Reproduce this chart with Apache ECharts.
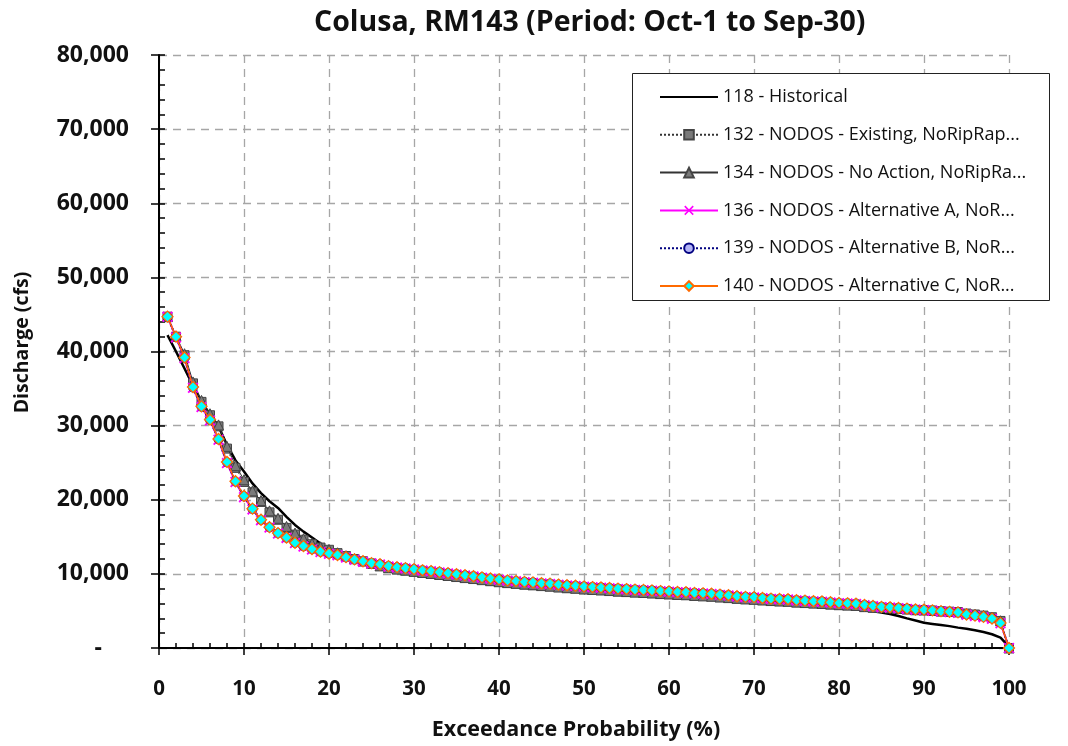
<!DOCTYPE html>
<html>
<head>
<meta charset="utf-8">
<script src="https://cdn.jsdelivr.net/npm/echarts@6/dist/echarts.min.js"></script>
<style>
html,body{margin:0;padding:0;background:#fff;}
#chart{width:1068px;height:746px;}
</style>
</head>
<body>
<div id="chart"></div>
<script>
var titleText = 'Colusa, RM143 (Period: Oct-1 to Sep-30)';
var xAxisTitle = 'Exceedance Probability (%)';
var yAxisTitle = 'Discharge (cfs)';
var seriesNames = [
  '118 - Historical',
  '132 - NODOS - Existing, NoRipRap...',
  '134 - NODOS - No Action, NoRipRa...',
  '136 - NODOS - Alternative A, NoR...',
  '139 - NODOS - Alternative B, NoR...',
  '140 - NODOS - Alternative C, NoR...'
];
var xTicks = [0,10,20,30,40,50,60,70,80,90,100];
var yTicks = [0,10000,20000,30000,40000,50000,60000,70000,80000];

var probs = [1,2,3,4,5,6,7,8,9,10,11,12,13,14,15,16,17,18,19,20,
  21,22,23,24,25,26,27,28,29,30,31,32,33,34,35,36,37,38,39,40,
  41,42,43,44,45,46,47,48,49,50,51,52,53,54,55,56,57,58,59,60,
  61,62,63,64,65,66,67,68,69,70,71,72,73,74,75,76,77,78,79,80,
  81,82,83,84,85,86,87,88,89,90,91,92,93,94,95,96,97,98,99,100];

var hist118 = [42200,40000,37700,35400,33200,31500,29900,27400,25300,23800,
  22200,20900,19800,18900,17700,16600,15700,14900,14100,13400,
  13000,12600,12200,11800,11500,11000,10750,10570,10430,10270,
  10120,9990,9850,9710,9570,9430,9300,9150,9010,8870,
  8750,8650,8540,8450,8350,8270,8160,8060,7990,7890,
  7820,7760,7680,7600,7540,7470,7420,7350,7270,7220,
  7150,7110,7020,6960,6910,6810,6730,6630,6550,6500,
  6410,6330,6270,6230,6120,6060,5990,5940,5850,5700,
  5550,5300,5050,4950,4800,4580,4320,4000,3700,3400,
  3250,3100,2950,2750,2600,2400,2150,1850,1400,200];

var s132 = [44700,42000,39500,35700,33200,31400,29900,26900,24300,22400,
  21000,19700,18300,17300,16200,15300,14600,14000,13550,13250,
  12800,12400,12000,11700,11400,11050,10800,10620,10480,10320,
  10170,10040,9900,9760,9620,9480,9350,9200,9060,8920,
  8800,8700,8590,8500,8400,8320,8210,8110,8040,7940,
  7870,7810,7730,7650,7590,7520,7470,7400,7320,7270,
  7200,7160,7070,7010,6960,6860,6780,6680,6600,6550,
  6460,6380,6320,6280,6170,6110,6040,5990,5900,5820,
  5770,5720,5560,5480,5440,5390,5310,5240,5140,5110,
  5050,4960,4900,4850,4650,4520,4370,4150,3650,0];

var s134 = [44700,42100,39700,35900,33400,31600,30100,27200,24600,22700,
  21200,19900,18500,17500,16400,15500,14750,14100,13650,13300,
  12850,12450,12050,11750,11420,11080,10830,10650,10500,10340,
  10190,10060,9920,9780,9640,9500,9370,9220,9080,8940,
  8820,8720,8610,8520,8420,8340,8230,8130,8060,7960,
  7890,7830,7750,7670,7610,7540,7490,7420,7340,7290,
  7220,7180,7090,7030,6980,6880,6800,6700,6620,6570,
  6480,6400,6340,6300,6190,6130,6060,6010,5920,5840,
  5790,5740,5580,5500,5460,5410,5330,5260,5160,5130,
  5070,4980,4920,4870,4670,4540,4390,4170,3680,0];

var s136 = [44700,41900,39100,35100,32500,30700,28100,24950,22400,20350,
  18700,17250,16250,15450,14850,14150,13700,13300,12950,12700,
  12500,12200,11900,11650,11400,11250,11000,10850,10730,10600,
  10440,10340,10200,10060,9910,9780,9640,9490,9340,9210,
  9080,8990,8880,8810,8700,8640,8520,8420,8360,8250,
  8180,8130,8050,7970,7910,7840,7800,7730,7640,7600,
  7520,7490,7390,7340,7280,7160,7080,6940,6860,6820,
  6710,6620,6570,6540,6410,6350,6270,6240,6130,6040,
  5990,5940,5760,5640,5510,5450,5360,5270,5150,5130,
  5040,4930,4840,4770,4480,4330,4160,3930,3340,0];

var s139 = [44650,41950,39150,35150,32550,30750,28150,25050,22450,20450,
  18750,17280,16280,15480,14880,14180,13730,13330,12990,12740,
  12540,12240,11940,11690,11450,11300,11050,10900,10790,10650,
  10490,10390,10250,10110,9960,9830,9690,9540,9390,9260,
  9130,9040,8930,8860,8750,8690,8570,8470,8410,8300,
  8230,8180,8100,8020,7960,7890,7850,7780,7690,7650,
  7570,7540,7440,7390,7330,7210,7130,6990,6910,6870,
  6760,6670,6620,6590,6460,6400,6320,6290,6180,6090,
  6040,5990,5810,5690,5560,5500,5410,5320,5200,5180,
  5090,4980,4890,4820,4540,4390,4220,4000,3420,0];

var s140 = [44700,42000,39200,35200,32600,30800,28200,25100,22500,20500,
  18800,17300,16300,15500,14900,14200,13750,13350,13000,12750,
  12550,12250,11950,11700,11450,11300,11050,10900,10780,10640,
  10480,10380,10240,10100,9950,9820,9680,9530,9380,9250,
  9120,9030,8920,8850,8740,8680,8560,8460,8400,8290,
  8220,8170,8090,8010,7950,7880,7840,7770,7680,7640,
  7560,7530,7430,7380,7320,7200,7120,6980,6900,6860,
  6750,6660,6610,6580,6450,6390,6310,6280,6170,6080,
  6030,5980,5800,5680,5550,5490,5400,5310,5190,5170,
  5080,4970,4880,4810,4520,4370,4200,3970,3380,0];

function pairs(vals){ return probs.map(function(p,i){ return [p, vals[i]]; }); }

var FONT = '"Open Sans", sans-serif';
var xMin = xTicks[0], xMax = xTicks[xTicks.length-1], xStep = xTicks[1]-xTicks[0];
var yMin = yTicks[0], yMax = yTicks[yTicks.length-1], yStep = yTicks[1]-yTicks[0];
var xCross = 'path://M0,1.2L1.2,0L5,3.8L8.8,0L10,1.2L6.2,5L10,8.8L8.8,10L5,6.2L1.2,10L0,8.8L3.8,5Z';

var chart = echarts.init(document.getElementById('chart'), null, {renderer:'canvas'});
var legendData = seriesNames.map(function(n, i){
  return i === 0 ? {name: n, itemStyle: {opacity: 0}} : {name: n};
});
var option = {
  animation: false,
  backgroundColor: '#ffffff',
  title: {
    text: titleText, left: 309, top: 3,
    textStyle: {fontFamily: FONT, fontWeight: 'bold', fontSize: 28.5, color: '#111'}
  },
  grid: {left: 159, right: 59, top: 55, bottom: 96, containLabel: false},
  graphic: [{
    type: 'rect', z: 5, zlevel: 0,
    shape: {x: 632.5, y: 73.5, width: 417, height: 227},
    style: {fill: '#ffffff', stroke: '#222', lineWidth: 1}
  }],
  legend: {
    orient: 'vertical', left: 654, top: 82, z: 10,
    itemWidth: 58, itemHeight: 12, itemGap: 17.8,
    textStyle: {fontFamily: FONT, fontSize: 18, color: '#111', lineHeight: 20},
    data: legendData
  },
  xAxis: [{
    type: 'value', min: xMin, max: xMax, interval: xStep, position: 'bottom',
    name: xAxisTitle, nameLocation: 'middle', nameGap: 71,
    nameTextStyle: {fontFamily: FONT, fontWeight: 'bold', fontSize: 21.5, color: '#111', padding: [0, 16, 0, 0]},
    axisLine: {show: true, onZero: false, lineStyle: {color: '#000', width: 2}},
    axisTick: {show: true, inside: true, length: 5, lineStyle: {color: '#000', width: 1.5}},
    minorTick: {show: true, splitNumber: 5, length: 5, lineStyle: {color: '#000', width: 1.5}},
    axisLabel: {margin: 31, fontFamily: FONT, fontWeight: 'bold', fontSize: 20.5, color: '#111'},
    splitLine: {show: true, lineStyle: {color: '#a6a6a6', width: 1.3, type: [8, 6]}}
  }, {
    type: 'value', min: xMin, max: xMax, interval: xStep, position: 'bottom', offset: 0,
    axisLine: {show: false},
    axisTick: {show: true, inside: false, length: 7, lineStyle: {color: '#000', width: 1.5}},
    axisLabel: {show: false}, splitLine: {show: false}
  }],
  yAxis: [{
    type: 'value', min: yMin, max: yMax, interval: yStep, position: 'left',
    name: yAxisTitle, nameLocation: 'middle', nameGap: 127, nameRotate: 90,
    nameTextStyle: {fontFamily: FONT, fontWeight: 'bold', fontSize: 19.5, color: '#111', padding: [0, 0, 0, 18]},
    axisLine: {show: true, onZero: false, lineStyle: {color: '#000', width: 2}},
    axisTick: {show: true, inside: true, length: 6, lineStyle: {color: '#000', width: 1.5}},
    minorTick: {show: true, splitNumber: 5, length: 6, lineStyle: {color: '#000', width: 1.5}},
    axisLabel: {
      margin: 30, fontFamily: FONT, fontWeight: 'bold', fontSize: 23, color: '#111',
      formatter: function(v){ return v === 0 ? '{z|-}' : v.toLocaleString('en-US'); },
      rich: {z: {fontFamily: FONT, fontWeight: 'bold', fontSize: 23, color: '#111', padding: [0, 27, 0, 0]}}
    },
    splitLine: {show: true, lineStyle: {color: '#a6a6a6', width: 1.3, type: [8, 6]}}
  }, {
    type: 'value', min: yMin, max: yMax, interval: yStep, position: 'left', offset: 0,
    axisLine: {show: false},
    axisTick: {show: true, inside: false, length: 8, lineStyle: {color: '#000', width: 1.5}},
    axisLabel: {show: false}, splitLine: {show: false}
  }],
  series: [
    {name: seriesNames[0], type: 'line', data: pairs(hist118), showSymbol: false, symbol: 'none',
     lineStyle: {color: '#000', width: 2.5}, itemStyle: {color: '#000'}, z: 2},
    {name: seriesNames[1], type: 'line', data: pairs(s132), symbol: 'rect', symbolSize: 9,
     lineStyle: {color: '#333', width: 1, type: [2, 2]},
     itemStyle: {color: '#7a7a7a', borderColor: '#454545', borderWidth: 1}, z: 3},
    {name: seriesNames[2], type: 'line', data: pairs(s134), symbol: 'triangle', symbolSize: 10,
     lineStyle: {color: '#333', width: 1},
     itemStyle: {color: '#7a7a7a', borderColor: '#454545', borderWidth: 1}, z: 4},
    {name: seriesNames[3], type: 'line', data: pairs(s136), symbol: xCross, symbolSize: 11,
     lineStyle: {color: '#ff00ff', width: 2},
     itemStyle: {color: '#ff00ff', borderWidth: 0}, z: 5},
    {name: seriesNames[4], type: 'line', data: pairs(s139), symbol: 'circle', symbolSize: 9,
     lineStyle: {color: '#000080', width: 2, type: [2, 2]},
     itemStyle: {color: '#b3b3f5', borderColor: '#000080', borderWidth: 1}, z: 6},
    {name: seriesNames[5], type: 'line', data: pairs(s140), symbol: 'diamond', symbolSize: 11,
     lineStyle: {color: '#ff6a00', width: 1.5},
     itemStyle: {color: '#00ffff', borderColor: '#ff6a00', borderWidth: 1.3}, z: 7}
  ]
};
chart.setOption(option);
</script>
</body>
</html>
